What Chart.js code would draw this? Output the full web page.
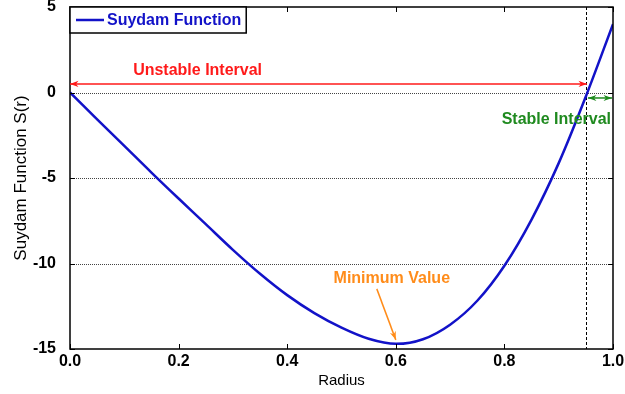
<!DOCTYPE html>
<html>
<head>
<meta charset="utf-8">
<script src="https://cdn.jsdelivr.net/npm/chart.js@4.4.1/dist/chart.umd.min.js"></script>
<style>
  html, body { margin: 0; padding: 0; background: #fff; }
  #wrap { width: 625px; height: 394px; }
</style>
</head>
<body>
<div id="wrap"><canvas id="suydamChart" width="625" height="394"></canvas></div>
<script>
// Suydam criterion S(r) sampled along the radius
const radius = [0, 0.05, 0.1, 0.15, 0.2, 0.25, 0.3, 0.35, 0.4, 0.45, 0.5, 0.55, 0.6, 0.65, 0.7, 0.75, 0.8, 0.85, 0.9, 0.95, 1.0];
const suydam = [0, -1.57, -3.12, -4.68, -6.2, -7.7, -9.2, -10.6, -11.85, -12.9, -13.75, -14.4, -14.7, -14.43, -13.58, -12.18, -10.13, -7.43, -4.13, -0.23, 4.0];
const xTicks = [0, 0.2, 0.4, 0.6, 0.8, 1.0];
const yTicks = [-15, -10, -5, 0, 5];
const gridLevels = [0, -5, -10];

// stability boundary and the minimum of S(r)
const boundaryR = 0.952;
const minR = 0.6;
const minS = -14.7;

const FONT = "'Liberation Sans', Arial, sans-serif";

// draws the frame, inner ticks, dotted grid, legend and the annotations
const annotate = {
    id: 'annotate',
    beforeDatasetsDraw(chart) {
        const ctx = chart.ctx;
        const xs = chart.scales.x, ys = chart.scales.y;
        const a = chart.chartArea;
        ctx.save();
        // dotted horizontal grid
        ctx.strokeStyle = '#444';
        ctx.lineWidth = 1;
        ctx.setLineDash([1, 1]);
        gridLevels.forEach(v => {
            const y = Math.round(ys.getPixelForValue(v)) + 0.5;
            ctx.beginPath();
            ctx.moveTo(a.left, y);
            ctx.lineTo(a.right, y);
            ctx.stroke();
        });
        // vertical dashed boundary
        ctx.strokeStyle = '#000';
        ctx.setLineDash([3, 2]);
        const bx = Math.round(xs.getPixelForValue(boundaryR)) - 0.5;
        ctx.beginPath();
        ctx.moveTo(bx, a.top);
        ctx.lineTo(bx, a.bottom);
        ctx.stroke();
        ctx.restore();
    },
    afterDatasetsDraw(chart) {
        const ctx = chart.ctx;
        const xs = chart.scales.x, ys = chart.scales.y;
        const a = chart.chartArea;
        ctx.save();
        // plot frame
        ctx.strokeStyle = '#000';
        ctx.lineWidth = 1.5;
        ctx.strokeRect(a.left, a.top, a.right - a.left, a.bottom - a.top);
        // inner ticks
        ctx.lineWidth = 1;
        xTicks.forEach(v => {
            const x = Math.round(xs.getPixelForValue(v)) + 0.5;
            ctx.beginPath();
            ctx.moveTo(x, a.bottom); ctx.lineTo(x, a.bottom - 5);
            ctx.moveTo(x, a.top); ctx.lineTo(x, a.top + 5);
            ctx.stroke();
        });
        yTicks.forEach(v => {
            const y = Math.round(ys.getPixelForValue(v)) + 0.5;
            ctx.beginPath();
            ctx.moveTo(a.left, y); ctx.lineTo(a.left + 5, y);
            ctx.moveTo(a.right, y); ctx.lineTo(a.right - 5, y);
            ctx.stroke();
        });

        // legend
        const ds = chart.data.datasets[0];
        ctx.font = 'bold 16px ' + FONT;
        const lw = ctx.measureText(ds.label).width;
        ctx.fillStyle = '#fff';
        ctx.fillRect(a.left, a.top, lw + 42, 26);
        ctx.strokeStyle = '#000';
        ctx.lineWidth = 1.5;
        ctx.strokeRect(a.left, a.top, lw + 42, 26);
        ctx.strokeStyle = ds.borderColor;
        ctx.lineWidth = 2.5;
        ctx.beginPath();
        ctx.moveTo(a.left + 6, a.top + 13);
        ctx.lineTo(a.left + 34, a.top + 13);
        ctx.stroke();
        ctx.fillStyle = ds.borderColor;
        ctx.textBaseline = 'middle';
        ctx.textAlign = 'left';
        ctx.fillText(ds.label, a.left + 37, a.top + 13.5);

        // arrow helper
        function arrow(x1, y1, x2, y2, color, both) {
            ctx.strokeStyle = color;
            ctx.fillStyle = color;
            ctx.lineWidth = 1.5;
            ctx.beginPath();
            ctx.moveTo(x1, y1);
            ctx.lineTo(x2, y2);
            ctx.stroke();
            const head = (px, py, qx, qy) => {
                const ang = Math.atan2(py - qy, px - qx);
                ctx.beginPath();
                ctx.moveTo(px, py);
                ctx.lineTo(px - 9 * Math.cos(ang - 0.35), py - 9 * Math.sin(ang - 0.35));
                ctx.lineTo(px - 6 * Math.cos(ang), py - 6 * Math.sin(ang));
                ctx.lineTo(px - 9 * Math.cos(ang + 0.35), py - 9 * Math.sin(ang + 0.35));
                ctx.closePath();
                ctx.fill();
            };
            head(x2, y2, x1, y1);
            if (both) head(x1, y1, x2, y2);
        }

        // unstable interval
        const red = '#ff1a1a';
        const yu = ys.getPixelForValue(0.5);
        arrow(xs.getPixelForValue(0), yu, xs.getPixelForValue(boundaryR), yu, red, true);
        ctx.font = 'bold 16px ' + FONT;
        ctx.fillStyle = red;
        ctx.textAlign = 'center';
        ctx.fillText('Unstable Interval', xs.getPixelForValue(0.235), ys.getPixelForValue(1.3));

        // stable interval
        const green = '#1f8a1f';
        const yst = ys.getPixelForValue(-0.32);
        arrow(xs.getPixelForValue(boundaryR) + 1, yst, xs.getPixelForValue(1.0) - 1, yst, green, true);
        ctx.fillStyle = green;
        ctx.textAlign = 'right';
        ctx.fillText('Stable Interval', a.right - 2, ys.getPixelForValue(-1.56));

        // minimum value
        const orange = '#ff8c1a';
        const mx = xs.getPixelForValue(minR), my = ys.getPixelForValue(minS);
        arrow(mx - 19, my - 55, mx, my - 4, orange, false);
        ctx.fillStyle = orange;
        ctx.textAlign = 'center';
        ctx.fillText('Minimum Value', mx - 4, my - 65);
        ctx.restore();
    }
};

const ctx = document.getElementById('suydamChart').getContext('2d');
new Chart(ctx, {
    type: 'line',
    data: {
        datasets: [{
            label: 'Suydam Function',
            data: radius.map((r, i) => ({ x: r, y: suydam[i] })),
            borderColor: '#1212c8',
            borderWidth: 2.5,
            pointRadius: 0,
            tension: 0.35,
            fill: false
        }]
    },
    options: {
        responsive: false,
        animation: false,
        layout: { padding: { top: 7, right: 12, left: 0, bottom: 0 } },
        plugins: {
            legend: { display: false },
            tooltip: { enabled: false }
        },
        scales: {
            x: {
                type: 'linear',
                min: 0,
                max: 1,
                afterBuildTicks: s => { s.ticks = xTicks.map(v => ({ value: v })); },
                afterFit: s => { s.height = 45; s.paddingLeft = 0; s.paddingRight = 0; },
                grid: { display: false, drawTicks: false },
                border: { display: false },
                ticks: {
                    color: '#000',
                    padding: 3,
                    maxRotation: 0,
                    font: { family: FONT, size: 16, weight: 'bold' },
                    callback: v => v.toFixed(1)
                },
                title: {
                    display: true,
                    text: 'Radius',
                    color: '#000',
                    padding: { top: 0, bottom: 4 },
                    font: { family: FONT, size: 15 }
                }
            },
            y: {
                min: -15,
                max: 5,
                afterBuildTicks: s => { s.ticks = yTicks.map(v => ({ value: v })); },
                afterFit: s => { s.width = 70; s.paddingTop = 0; s.paddingBottom = 0; },
                grid: { display: false, drawTicks: false },
                border: { display: false },
                ticks: {
                    color: '#000',
                    padding: 14,
                    font: { family: FONT, size: 16, weight: 'bold' }
                },
                title: {
                    display: true,
                    text: 'Suydam Function S(r)',
                    color: '#000',
                    padding: { top: 11, bottom: 0 },
                    font: { family: FONT, size: 17 }
                }
            }
        }
    },
    plugins: [annotate]
});
</script>
</body>
</html>
